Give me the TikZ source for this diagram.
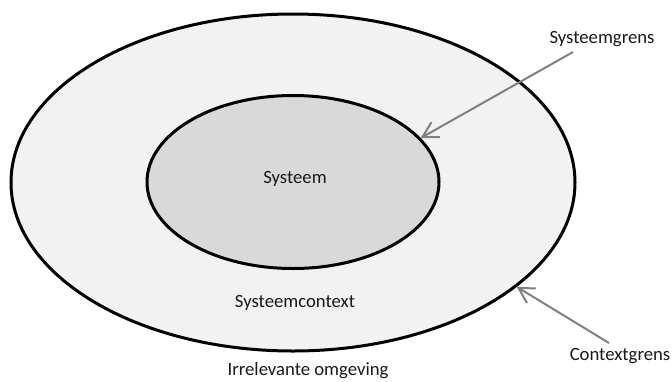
\documentclass[tikz,border=0pt]{standalone}
\usepackage{fontspec}
\setmainfont{Carlito}
\usetikzlibrary{shapes.geometric,arrows.meta}
\definecolor{contextfill}{HTML}{F2F2F2}
\definecolor{systemfill}{HTML}{D9D9D9}
\definecolor{pointergray}{HTML}{808080}
\tikzset{
  boundary/.style={ellipse, draw=black, line width=3pt, inner sep=0pt},
  lbl/.style={font=\fontsize{18.7}{22}\selectfont, text=black!90, inner sep=0pt},
  pointer/.style={draw=pointergray, line width=2pt,
    -{Straight Barb[length=15pt,width=17pt,line width=2pt]}}
}
\begin{document}
\begin{tikzpicture}[x=1pt,y=-1pt]
  \useasboundingbox[fill=white] (0,0) rectangle (672,381);

  % context boundary and system boundary
  \node[boundary, fill=contextfill, minimum width=564pt, minimum height=337pt] (context) at (293,182.5) {};
  \node[boundary, fill=systemfill, minimum width=292pt, minimum height=173pt] (system) at (293,182) {};

  % texts
  \node[lbl] (systeem) at (295,179) {Systeem};
  \node[lbl] (ctxtext) at (295,303) {Systeemcontext};
  \node[lbl] (irrel) at (308,370.5) {Irrelevante omgeving};
  \node[lbl] (sgrens) at (602,39) {Systeemgrens};
  \node[lbl] (cgrens) at (620,356) {Contextgrens};

  % pointers to the boundaries
  \coordinate (sgstart) at (573,52);
  \coordinate (cgstart) at (609,343);
  \draw[pointer] (sgstart) -- (system.19.4);
  \draw[pointer] (cgstart) -- (context.-25);
\end{tikzpicture}
\end{document}
